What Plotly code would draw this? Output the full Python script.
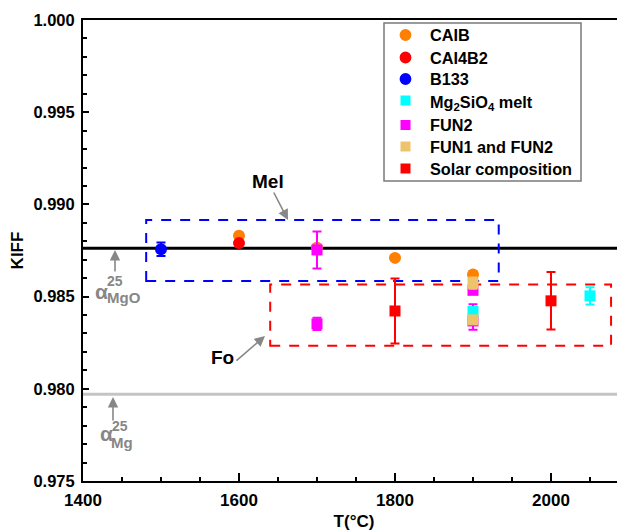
import plotly.graph_objects as go

# ---------------- data ----------------
caib_T = [1600, 1700, 1800, 1900]
caib_K = [0.9883, 0.98765, 0.9871, 0.9862]

cai4b2_T = [1600]
cai4b2_K = [0.9879]

b133_T = [1500]
b133_K = [0.98757]
b133_err = [0.00037]

mg2sio4_T = [1900, 2050]
mg2sio4_K = [0.98419, 0.98504]
mg2sio4_err = [0.0002, 0.00047]

fun2_T = [1700, 1700, 1900, 1900]
fun2_K = [0.98753, 0.98352, 0.98534, 0.98368]
fun2_err_plus = [0.001, 0.00033, 0.0001, 0.0009]
fun2_err_minus = [0.001, 0.00033, 0.0001, 0.00048]

fun12_T = [1900, 1900]
fun12_K = [0.98573, 0.98374]
fun12_err = [0.0003, 0.0002]

solar_T = [1800, 2000]
solar_K = [0.98422, 0.98477]
solar_err = [0.00176, 0.00156]

alpha_mgo = 0.98762
alpha_mg = 0.97971
ref_T = [1400, 2088]

mel_box = [1481, 1933, 0.98585, 0.98915]
fo_box = [1640, 2077, 0.98233, 0.98565]

x_tickvals = [1400, 1600, 1800, 2000]
y_tickvals = [0.975, 0.980, 0.985, 0.990, 0.995, 1.000]

# ---------------- layout geometry ----------------
OFF = 8                       # page body margin
W, H = 625 - OFF, 531 - OFF
PL, PT, PB = 83, 20, 481       # plot area edges in page pixels
ML, MR, MT = PL - OFF, 0, PT - OFF
MB = H - (PB - OFF)
PW = W - ML - MR
PH = H - MT - MB
XR = [1400, 1400 + PW / 0.78]
YR = [0.975, 1.000]


def px2x(px):
    return XR[0] + (px - PL) / PW * (XR[1] - XR[0])


def py2y(py):
    return YR[1] - (py - PT) / PH * (YR[1] - YR[0])


def px2p(px):
    return (px - PL) / PW


def py2p(py):
    return 1 - (py - PT) / PH


FONT = "Liberation Sans, Arial, sans-serif"

fig = go.Figure()

series = []   # (name, color, symbol) for the legend, in legend order


def add(name, T, K, color, symbol, err=None, errm=None, size=11):
    kw = {}
    if err is not None:
        kw["error_y"] = dict(type="data", array=err,
                             arrayminus=errm if errm is not None else err,
                             symmetric=errm is None,
                             color=color, thickness=2, width=4.5)
    fig.add_trace(go.Scatter(
        x=T, y=K, mode="markers", name=name, showlegend=False,
        marker=dict(color=color, symbol=symbol, size=size, line=dict(width=0)), **kw))


add("CAIB", caib_T, caib_K, "#FF8000", "circle", size=12)
add("CAI4B2", cai4b2_T, cai4b2_K, "#FF0000", "circle", size=12)
add("B133", b133_T, b133_K, "#0000FF", "circle", err=b133_err, size=12)
add("FUN2", fun2_T, fun2_K, "#FF00FF", "square", err=fun2_err_plus, errm=fun2_err_minus)
add("Mg<sub>2</sub>SiO<sub>4</sub> melt", mg2sio4_T, mg2sio4_K, "#00FFFF", "square", err=mg2sio4_err)
add("FUN1 and FUN2", fun12_T, fun12_K, "#EDC46C", "square", err=fun12_err)
add("Solar composition", solar_T, solar_K, "#FF0000", "square", err=solar_err)

legend_items = [
    ("CAIB", "#FF8000", "circle"),
    ("CAI4B2", "#FF0000", "circle"),
    ("B133", "#0000FF", "circle"),
    ("Mg<sub>2</sub>SiO<sub>4</sub> melt", "#00FFFF", "square"),
    ("FUN2", "#FF00FF", "square"),
    ("FUN1 and FUN2", "#EDC46C", "square"),
    ("Solar composition", "#FF0000", "square"),
]
legend_rows = [35, 57.5, 79, 100.5, 125, 146.5, 168.5]   # page px row centres

shapes = [
    dict(type="line", x0=ref_T[0], x1=ref_T[1], y0=alpha_mgo, y1=alpha_mgo,
         line=dict(color="black", width=3), layer="below"),
    dict(type="line", x0=ref_T[0], x1=ref_T[1], y0=alpha_mg, y1=alpha_mg,
         line=dict(color="#C4C4C4", width=3), layer="below"),
    dict(type="rect", x0=mel_box[0], x1=mel_box[1], y0=mel_box[2], y1=mel_box[3],
         line=dict(color="#0000FF", width=2, dash="10px,9px"), layer="below"),
    dict(type="rect", x0=fo_box[0], x1=fo_box[1], y0=fo_box[2], y1=fo_box[3],
         line=dict(color="#FF0000", width=2, dash="10px,9px"), layer="below"),
    # legend frame
    dict(type="rect", xref="paper", yref="paper",
         x0=px2p(384), x1=px2p(581), y0=py2p(181), y1=py2p(23),
         line=dict(color="#7a7a7a", width=1.5), fillcolor="white", layer="above"),
]

ann = []
for (name, color, sym), row in zip(legend_items, legend_rows):
    r = 5.9 if sym == "circle" else 5.0
    shapes.append(dict(type="circle" if sym == "circle" else "rect",
                       xref="paper", yref="paper",
                       xsizemode="pixel", ysizemode="pixel",
                       xanchor=px2p(405.5), yanchor=py2p(row),
                       x0=-r, x1=r, y0=-r, y1=r,
                       fillcolor=color, line=dict(width=0), layer="above"))
    dy = 2.5 if "<sub>" in name else 0
    ann.append(dict(xref="paper", yref="paper", x=px2p(429.5), y=py2p(row + dy),
                    xanchor="left", yanchor="middle", text=name, showarrow=False,
                    borderpad=0,
                    font=dict(family=FONT, size=16.3, color="black", weight="bold")))

GRAY = "#878787"
ann.append(dict(x=px2x(268), y=py2y(181), text="Mel", showarrow=False,
                font=dict(family=FONT, size=19, color="black", weight="bold")))
ann.append(dict(x=px2x(222), y=py2y(357), text="Fo", showarrow=False,
                font=dict(family=FONT, size=19, color="black", weight="bold")))


def arrow(tipx, tipy, tailx, taily):
    ann.append(dict(x=px2x(tipx), y=py2y(tipy), ax=tailx - tipx, ay=taily - tipy,
                    text="", showarrow=True, arrowhead=2, arrowsize=1.3,
                    arrowwidth=1.6, arrowcolor=GRAY, standoff=0, startstandoff=0))


arrow(288, 220, 273, 191)
arrow(265, 336, 235, 362)
arrow(115, 250, 115, 273)
arrow(113, 397, 113, 422)


def alpha_label(ax_, ay_, sx, sy, bx, by, sub):
    ann.append(dict(x=px2x(ax_), y=py2y(ay_), text="α", showarrow=False, borderpad=0,
                    font=dict(family=FONT, size=21, color=GRAY, weight="bold")))
    ann.append(dict(x=px2x(sx), y=py2y(sy), text="25", showarrow=False, borderpad=0,
                    font=dict(family=FONT, size=14, color=GRAY, weight="bold")))
    ann.append(dict(x=px2x(bx), y=py2y(by), text=sub, showarrow=False, borderpad=0,
                    font=dict(family=FONT, size=15, color=GRAY, weight="bold")))


alpha_label(101, 291, 115, 281, 124, 297, "MgO")
alpha_label(106, 433, 120, 426, 122, 442, "Mg")

fig.update_layout(
    width=W, height=H,
    margin=dict(l=ML, r=MR, t=MT, b=MB, pad=0),
    plot_bgcolor="white", paper_bgcolor="white",
    font=dict(family=FONT, color="black"),
    shapes=shapes, annotations=ann,
    showlegend=False,
    xaxis=dict(range=XR, tickvals=x_tickvals, ticks="inside", ticklen=8, tickwidth=1.5,
               tickcolor="black", showline=True, linecolor="black", linewidth=2,
               mirror=True, showgrid=False, zeroline=False, ticklabelstandoff=3,
               minor=dict(dtick=50, ticks="inside", ticklen=4, tickwidth=1.5, tickcolor="black"),
               tickfont=dict(family=FONT, size=17, color="black", weight="bold"),
               title=dict(text="T(°C)", standoff=6,
                          font=dict(family=FONT, size=17, color="black", weight="bold"))),
    yaxis=dict(range=YR, tickvals=y_tickvals, tickformat=".3f", ticks="inside", ticklen=6,
               tickwidth=1.5, tickcolor="black", showline=True, linecolor="black", linewidth=2,
               showgrid=False, zeroline=False, ticklabelstandoff=3,
               minor=dict(dtick=0.001, ticks="inside", ticklen=4, tickwidth=1.5, tickcolor="black"),
               tickfont=dict(family=FONT, size=16.5, color="black", weight="bold"),
               title=dict(text="KIFF", standoff=6,
                          font=dict(family=FONT, size=17, color="black", weight="bold"))),
)

fig.write_html("out.html")
